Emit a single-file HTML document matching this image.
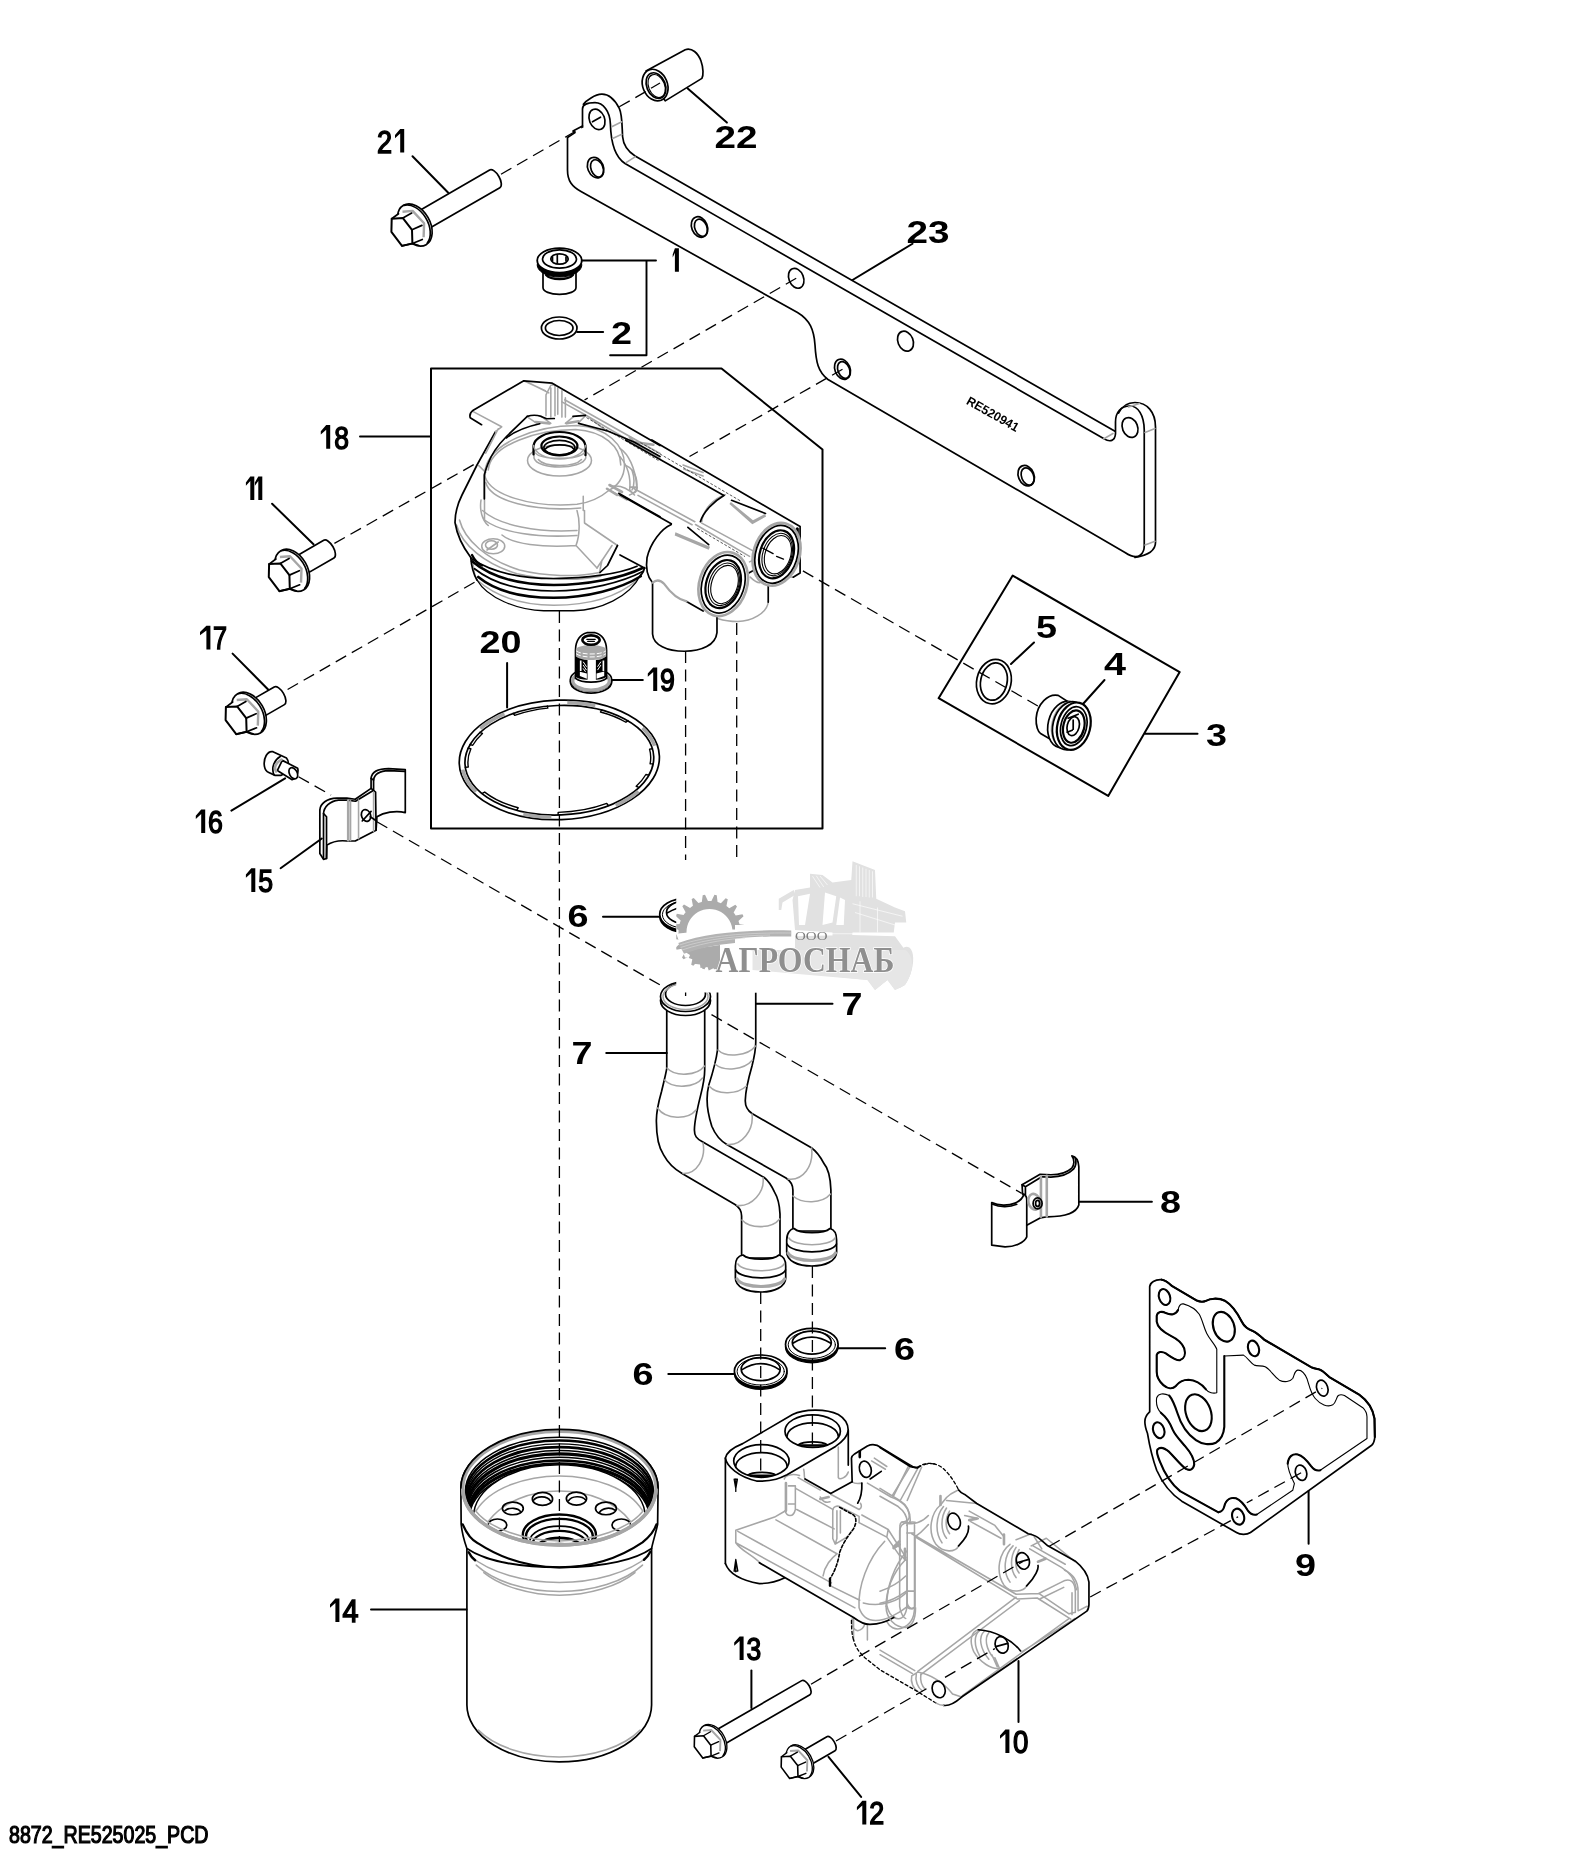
<!DOCTYPE html>
<html><head><meta charset="utf-8"><title>8872_RE525025_PCD</title>
<style>
html,body{margin:0;padding:0;background:#fff;}
body{width:1588px;height:1852px;overflow:hidden;font-family:"Liberation Sans",sans-serif;}
svg{display:block;position:absolute;left:0;top:0;filter:grayscale(1);}
.k{stroke:#000;fill:none;stroke-width:1.7;stroke-linecap:round;stroke-linejoin:round;}
.k2{stroke:#000;fill:none;stroke-width:2.2;stroke-linecap:round;stroke-linejoin:round;}
.kt{stroke:#000;fill:none;stroke-width:1.1;stroke-linecap:round;stroke-linejoin:round;}
.g{stroke:#a6a6a6;fill:none;stroke-width:1.55;stroke-linecap:round;stroke-linejoin:round;}
.g2{stroke:#a6a6a6;fill:none;stroke-width:2.6;stroke-linecap:round;stroke-linejoin:round;}
.d{stroke:#000;fill:none;stroke-width:1.3;stroke-dasharray:12 6.5;}
.w{fill:#fff;}
.kw{stroke:#000;fill:#fff;stroke-width:1.7;stroke-linecap:round;stroke-linejoin:round;}
.gw{stroke:#a6a6a6;fill:#fff;stroke-width:1.3;stroke-linejoin:round;}
text{font-family:"Liberation Sans",sans-serif;fill:#000;}
.n{font-size:31.5px;stroke:#000;stroke-width:1.45;}
.b{font-size:32px;font-weight:bold;}
g.ns *{vector-effect:non-scaling-stroke;}
</style></head><body>
<svg width="1588" height="1852" viewBox="0 0 1588 1852">
<rect width="1588" height="1852" fill="#fff"/>
<!-- plate 23 -->
<g id="plate23">
<!-- outer/back silhouette -->
<path class="k" d="M583.4,104.3 C586,100.5 595,94.5 601.7,94.2 C610,94 616,102 619.3,108.4 C622.5,115 622,128 622.6,136.8 C623.2,144 628,151.5 635.1,156 L1115,431.2"/>
<path class="k" d="M1118.5,413 C1122,406 1128,402.5 1135,402.5 C1147,402.5 1155.5,412 1155.5,427 L1155.5,542.5 C1155.5,549 1150,555 1135,557.5"/>
<!-- front face -->
<path class="k" d="M567.5,137.5 L567.5,170 C567.5,181 572,186.5 581,191.5 L797.5,312.5 C810,320 814,330 815,345 C816,362 818,372 828,379.5 L1125,552.5 C1131,556.5 1137,558 1140.5,555 C1144,552 1144.25,549 1144.25,546 L1144.25,430 C1144,415 1138,406 1130,406 C1121,406 1115.5,412 1115.5,422 L1115.5,433.75 C1115,441 1110,442.5 1104,438.75 L625,163.5 C615,157 610.9,143 610.4,124 C610,111 603,102.6 595,102.6 C587,102.6 582.5,104.5 582.5,109 L582.5,126"/>
<path class="k" d="M567.5,137.5 L575,132.6 L573,131 L582.5,126"/>
<!-- gray tangent marks -->
<path class="g" d="M611.7,126.8 L621.8,121.8 M612.6,138.5 L621.8,134.3 M626,162.7 L635.1,156.8"/>
<path class="g" d="M1128.5,407 L1139.5,403.5 M1145,432.5 L1155,428.5 M1145,545 L1155,541.2 M1103.5,439 L1113,433.5"/>
<!-- holes -->
<g class="k">
<ellipse cx="597" cy="119.4" rx="7.6" ry="10.6" transform="rotate(-22 597 119.4)"/>
<path d="M592.5,121.8 L600.5,117.2"/>
<ellipse cx="595.6" cy="167.6" rx="7.8" ry="10.6" transform="rotate(-22 595.6 167.6)"/>
<ellipse cx="597" cy="168.4" rx="6" ry="9" transform="rotate(-22 597 168.4)"/>
<ellipse cx="699.5" cy="227" rx="7.8" ry="10.6" transform="rotate(-22 699.5 227)"/>
<ellipse cx="700.9" cy="227.8" rx="6" ry="9" transform="rotate(-22 700.9 227.8)"/>
<ellipse cx="796.2" cy="278.3" rx="7.3" ry="10.3" transform="rotate(-22 796.2 278.3)"/>
<ellipse cx="905.5" cy="341.2" rx="7.6" ry="10.3" transform="rotate(-22 905.5 341.2)"/>
<ellipse cx="842.5" cy="369.2" rx="7.6" ry="10.4" transform="rotate(-22 842.5 369.2)"/>
<ellipse cx="843.8" cy="370" rx="5.8" ry="8.8" transform="rotate(-22 843.8 370)"/>
<ellipse cx="1026.2" cy="475.7" rx="7.8" ry="10.6" transform="rotate(-22 1026.2 475.7)"/>
<ellipse cx="1027.6" cy="476.5" rx="6" ry="9" transform="rotate(-22 1027.6 476.5)"/>
<ellipse cx="1130" cy="427.5" rx="7.6" ry="10.2" transform="rotate(-22 1130 427.5)"/>
</g>
<text x="0" y="0" font-size="12.5px" font-weight="bold" transform="translate(965.5,403.5) rotate(29.5)" textLength="58" lengthAdjust="spacingAndGlyphs">RE520941</text>
</g>
<defs>
<!-- bolt head, flange centre at 0,0 ; axis at -30deg -->
<g id="bhead">
 <ellipse class="kw" cx="0" cy="0" rx="15.2" ry="22.7" transform="rotate(-30)"/>
 <path class="k" d="M-10.8,-19.6 A15.2,22.7 -30 0 1 12.5,18.1"/>
 <path d="M-23.1,-6.2 L-16.3,-11.3 L-12.3,-13.3 L-2.2,-14.1 L9.3,-1.8 L8.8,12.3 L7.5,14.5 L-2.4,18.5 L-12.8,20.9 L-23.4,6.8 Z" fill="#fff" stroke="none"/>
 <path class="g2" d="M-12.3,-13.3 L-2.2,-14.1 L9.3,-1.8 L8.8,12.3" style="stroke-width:2.4;stroke-linecap:butt"/>
 <path class="k" d="M-23.1,-6.2 L-11.9,-6.9 L-2.8,4.8 L-2.4,18.5 L-12.8,20.9 L-23.4,6.8 Z" style="stroke-width:2"/>
 <path class="k" d="M-23.1,-6.2 L-16.3,-11.3 M-11.9,-6.9 L-3.1,-11.9 M-2.8,4.8 L7.1,0.4 M-2.4,18.5 L7.5,14.5 M-12.8,20.9 L-2.4,18.5 L4,20.5"/>
</g>
</defs>
<!-- bolt 21 -->
<g id="bolt21" transform="translate(414.8,225)">
<path class="kw" transform="rotate(-30)" d="M3,-10.2 H92.3 a4.8,10.2 0 0 1 0,20.4 H3 Z"/>
<use href="#bhead"/>
</g>
<!-- bushing 22 -->
<g id="bush22">
<path class="kw" d="M646,70.9 L685.2,49.7 C692,47.5 698,53 701,61 C703.5,68 703.5,75.5 701.9,78.4 L665.2,100.9 Z"/>
<ellipse class="kw" cx="655.1" cy="85.1" rx="12.3" ry="16.3" transform="rotate(-22 655.1 85.1)"/>
<ellipse class="k" cx="656" cy="85.6" rx="9.3" ry="13.3" transform="rotate(-22 656 85.6)"/>
<ellipse class="kt" cx="656.6" cy="86" rx="8" ry="12" transform="rotate(-22 656.6 86)"/>
</g>
<!-- plug 1 and ring 2 -->
<g id="plug1">
<path class="kw" d="M543,270 V287.5 C543,291.5 550,294.3 559.5,294.3 C569,294.3 576,291.5 576,287.5 V270 Z"/>
<path class="g" d="M548,276 C553,279 566,279 571,276"/>
<path class="k2" d="M546,275 C551,280.5 568,280.5 573,275"/>
<ellipse cx="559.5" cy="265" rx="22.3" ry="12" fill="#000" stroke="#000" stroke-width="1"/>
<ellipse class="kw" cx="559.5" cy="260.4" rx="22.3" ry="12.2" style="stroke-width:1.8"/>
<ellipse class="k" cx="559.5" cy="259" rx="17" ry="9.2"/>
<ellipse class="k" cx="559.5" cy="259" rx="8.7" ry="5.2"/>
<path class="k" d="M557.3,254.5 V263.2 M552.5,257 V261 M566,257 V261"/>
</g>
<g id="ring2" class="k">
<ellipse cx="559.2" cy="328" rx="17.8" ry="11"/>
<ellipse cx="559.2" cy="328" rx="13.8" ry="7.5"/>
</g>
<g id="bolt11" transform="translate(292.2,570.3)">
<path class="kw" transform="rotate(-30)" d="M3,-10.2 H42.3 a4.8,10.2 0 0 1 0,20.4 H3 Z"/>
<use href="#bhead"/>
</g>
<g id="bolt17" transform="translate(249,713.3)">
<path class="kw" transform="rotate(-30)" d="M3,-10.2 H35 a4.8,10.2 0 0 1 0,20.4 H3 Z"/>
<use href="#bhead"/>
</g>
<g id="bolt13" transform="translate(713,1741.3) scale(0.8)" style="stroke-width:2.1">
<path class="kw" transform="rotate(-30)" d="M3,-10.2 H134 a4.8,10.2 0 0 1 0,20.4 H3 Z" style="stroke-width:2.1"/>
<use href="#bhead"/>
</g>
<g id="bolt12" transform="translate(799.9,1761.7) scale(0.8)">
<path class="kw" transform="rotate(-30)" d="M3,-10.2 H44.8 a4.8,10.2 0 0 1 0,20.4 H3 Z" style="stroke-width:2.1"/>
<use href="#bhead"/>
</g>
<!-- clamp 15 + screw 16 : coords in 5.992x zoom space, offset 190,730 -->
<g class="ns" transform="translate(190,730) scale(0.16689)">
<g id="screw16">
 <path class="kw" d="M497,130 C465,122 438,170 446,218 C450,240 460,250 472,255 L510,272 L545,272 C580,262 605,200 578,168 Z"/>
 <path class="k" d="M541,159 C505,180 485,225 503,268"/>
 <path class="kw" d="M553,182 L645,229 C652,250 640,290 612,298 L523,243 Z"/>
 <ellipse class="kw" cx="619" cy="259" rx="23" ry="36" transform="rotate(-28 619 259)"/>
 <path class="g2" d="M548,177 C515,195 500,225 516,248"/>
</g>
<g id="clamp15">
 <path class="kw" d="M778,740 L778,480 C780,440 820,410 880,408 L940,408 L990,415 L1085,350 L1085,290 C1090,250 1130,232 1190,232 L1290,238 L1290,495 C1230,480 1160,495 1120,520 L1115,600 L990,665 L940,665 C890,660 850,670 820,690 L818,770 L800,775 Z"/>
 <path class="k" d="M800,770 L800,505 C800,460 840,425 890,420 L940,420 L992,427 L1098,362"/>
 <path class="k" d="M818,770 L818,520 L800,500"/>
 <path class="k" d="M1100,362 L1100,300 C1105,262 1140,246 1190,244 L1288,248"/>
 <path class="k" d="M1085,350 L1112,372 L1115,600 M1100,300 L1085,290"/>
 <path class="g2" d="M948,422 V660"/>
 <path class="g" d="M962,424 V662 M1010,420 V652 M1100,372 V606"/>
 <ellipse class="k" cx="1055" cy="512" rx="27" ry="36" transform="rotate(-20 1055 512)"/>
 <path class="k" d="M1032,545 L1085,488 M1080,520 L1118,545"/>
</g>
</g>
<!-- ring 5 and plug 4 : coords in 4.994x zoom space, offset 920,560 -->
<g class="ns" transform="translate(920,560) scale(0.20024)">
 <ellipse class="k" cx="369" cy="607" rx="86" ry="112" transform="rotate(12 369 607)"/>
 <ellipse class="k" cx="369" cy="607" rx="66" ry="94" transform="rotate(12 369 607)"/>
 <g id="plug4">
  <path class="kw" d="M745,712 L690,676 C640,665 585,720 580,790 C578,830 590,860 602,866 L660,900 Z"/>
  <ellipse class="kw" cx="722" cy="822" rx="82" ry="118" transform="rotate(14 722 822)"/>
  <ellipse class="g2" cx="738" cy="824" rx="76" ry="114" transform="rotate(14 738 824)"/>
  <ellipse class="kw" cx="748" cy="828" rx="84" ry="122" transform="rotate(14 748 828)"/>
  <ellipse class="kw" cx="768" cy="830" rx="82" ry="120" transform="rotate(14 768 830)" style="stroke-width:2.2"/>
  <ellipse class="k" cx="768" cy="830" rx="64" ry="99" transform="rotate(14 768 830)"/>
  <ellipse class="k" cx="768" cy="832" rx="52" ry="82" transform="rotate(14 768 832)" style="stroke-width:2.2"/>
  <ellipse class="k" cx="765" cy="830" rx="30" ry="48" transform="rotate(14 765 830)"/>
  <path class="k" d="M740,790 L790,770 M735,860 L760,850 M765,800 L765,845"/>
 </g>
</g>
<!-- ring 20 + strainer 19 : 5.992x zoom coords, offset 440,600 -->
<g class="ns" transform="translate(440,600) scale(0.16689)">
 <g id="ring20" transform="rotate(-2.2 715 958)">
  <ellipse class="k" cx="715" cy="958" rx="600" ry="358"/>
  <ellipse class="k" cx="715" cy="960" rx="566" ry="328"/>
  <path class="g2" style="stroke-width:3.6;stroke-linecap:butt" d="M776.0,615.9 A584,344 0 0 1 943.2,641.3 M248.6,751.0 A584,344 0 0 1 396.9,669.5 M209.2,1130.0 A584,344 0 0 1 134.2,994.0 M654.0,1300.1 A584,344 0 0 1 486.8,1274.7 M1181.4,1165.0 A584,344 0 0 1 1041.6,1243.2 M1220.8,786.0 A584,344 0 0 1 1289.2,895.3"/>
  <path class="k" style="stroke-width:1.4" d="M449.3,668.4 L457.7,680.8 A548,314 0 0 1 657.7,645.7 L655.8,631.8 M980.7,668.4 L972.3,680.8 A548,314 0 0 1 1122.2,747.9 L1135.6,738.5 M1275.5,912.4 L1257.7,914.3 A548,314 0 0 1 1257.7,1001.7 L1275.5,1003.6 M1246.9,1070.2 L1230.0,1065.4 A548,314 0 0 1 1169.3,1133.6 L1184.2,1141.4 M998.0,1242.1 L989.0,1229.9 A548,314 0 0 1 695.9,1271.8 L695.2,1285.8 M449.3,1247.6 L457.7,1235.2 A548,314 0 0 1 260.7,1133.6 L245.8,1141.4 M150.4,980.9 L168.3,979.9 A548,314 0 0 1 188.2,871.4 L170.9,867.6 M183.1,845.8 L200.0,850.6 A548,314 0 0 1 260.7,782.4 L245.8,774.6"/>
 </g>
 <g id="str19">
  <ellipse class="kw" cx="905" cy="490" rx="124" ry="68"/>
  <ellipse class="kw" cx="905" cy="478" rx="124" ry="68"/>
  <ellipse class="g2" cx="905" cy="484" rx="110" ry="56" style="stroke-width:3.4"/>
  <path class="kw" d="M812,300 C812,240 845,203 880,196 L930,196 C965,203 998,240 998,300 V470 C960,500 850,500 812,470 Z"/>
  <path d="M814,292 C850,262 960,262 996,292 V338 C960,366 850,366 814,338 Z" fill="#a8a8a8"/>
  <path d="M816,305 C850,330 960,330 994,305 M816,322 C850,348 960,348 994,322" stroke="#fff" stroke-width="1" fill="none" stroke-dasharray="5 2" vector-effect="non-scaling-stroke"/>
  <path d="M814,338 C835,352 860,358 884,360 V478 C850,478 830,474 814,462 Z M934,360 C960,358 980,350 996,338 V462 C980,474 960,478 934,478 Z" fill="#000"/>
  <path d="M838,362 H848 V425 H838 Z M838,455 L880,472 V440 L838,430 Z M974,362 H984 V425 H974 Z M938,440 L984,428 V455 L938,472 Z" fill="#fff"/>
  <path d="M858,370 L878,400 M858,390 L878,420 M858,410 L872,430 M944,400 L964,370 M944,420 L964,390" stroke="#fff" stroke-width="1" fill="none" vector-effect="non-scaling-stroke"/>
  <ellipse class="kw" cx="905" cy="240" rx="52" ry="28" style="stroke-width:2.6"/>
  <path class="k" d="M880,236 H930 M885,248 H925" style="stroke-width:1.2"/>
 </g>
</g>
<defs>
<g id="oring6">
 <ellipse cx="0" cy="1.3" rx="26.3" ry="16" fill="#000" stroke="#000" stroke-width="1.4"/>
 <ellipse class="kw" cx="0" cy="-1" rx="26.3" ry="16"/>
 <ellipse class="k" cx="0" cy="-0.6" rx="23.6" ry="13.6" style="stroke-width:1"/>
 <ellipse class="k" cx="0" cy="-2.85" rx="19.5" ry="11.5"/>
 <path class="k" d="M-18.6,-2.4 Q0,-14.2 18.6,-2.4"/>
</g>
</defs>
<use href="#oring6" transform="translate(686,915.3)"/>
<use href="#oring6" transform="translate(811.8,1345.4)"/>
<use href="#oring6" transform="translate(760.7,1372)"/>
<!-- tubes 7 -->
<g id="tubes7">
<!-- back (right) tube -->
<path class="kw" d="M717.5,985 L717.5,1050 C716,1062 712,1075 708.8,1085.1 C706,1096 706.5,1110 711.8,1126.2 C715,1134 720,1140.5 727.2,1144.7 L786,1178 C790.5,1181 792.9,1184 792.9,1190 V1231 H830.9 V1190 C830.5,1178 828,1168 823.7,1163.1 C820,1156 816,1151 811.4,1147.7 L752,1113.5 C747,1110 745,1106 745.3,1100 C745.5,1092 748,1080 752,1066 C754,1058 755.75,1050 755.75,1042.5 V985 Z"/>
<path class="g" d="M718,1050 C726,1058 748,1056 755.5,1046 M715,1064 C724,1072 744,1070 752.5,1060 M709,1086 C718,1096 738,1094 746.5,1086 M727,1144.5 C742,1146 754,1130 752,1114 M788,1179 C803,1181 814,1166 811.5,1148 M793,1196 C802,1204 822,1204 830.5,1194"/>
<!-- flare bottom back tube -->
<path class="kw" d="M786.7,1240 C786.7,1232 791,1229 794,1228.5 C800,1234 824,1234 830,1228.5 C834,1229.5 836.6,1233 836.6,1240 V1252 C836.6,1261 825,1266 811.8,1266 C798,1266 786.7,1261 786.7,1252 Z"/>
<path class="g" d="M789,1238 C794,1247 830,1247 835,1238"/>
<path class="k" d="M787,1244 C792,1254.5 832,1254.5 836.5,1244"/>
<path class="g2" d="M788,1253 C794,1263 830,1263 835.5,1253" style="stroke-width:3.2"/>
<!-- front (left) tube -->
<path class="kw" d="M666.75,1000 V1068.7 C665,1078 663,1085 661.6,1091.3 C658,1104 656,1112 656.4,1122 C656.4,1138 659,1148 663.6,1154.9 C668,1163 674,1169 682.1,1173.4 L735,1204.5 C739,1207 741.6,1210 741.6,1216 V1258 H780 V1214 C779.6,1205 777.5,1197 774.4,1191.9 C771.5,1185.5 768,1180.5 764.2,1177.5 L702,1141.5 C696.5,1138.5 694.4,1136 694.4,1130 C694.4,1122 697,1110 700.6,1095.4 C703,1086 704.7,1078 704.7,1070 V1000 Z"/>
<path class="g" d="M667,1068 C675,1077 697,1076 704.5,1066 M664.5,1080 C673,1089 695,1088 702.5,1078 M657.5,1108 C666,1120 688,1120 696,1110 M683,1173.5 C697,1174 706,1158 703,1143 M737,1205.5 C752,1207 765,1192 763,1177.5 M742,1220 C750,1229 772,1229 779.6,1219"/>
<!-- flare bottom front tube -->
<path class="kw" d="M735.4,1266 C735.4,1258 740,1255.5 743,1255 C749,1260.5 773,1260.5 779,1255 C783,1256 785.7,1259.5 785.7,1266 V1278 C785.7,1287 774,1292 760.7,1292 C747,1292 735.4,1287 735.4,1278 Z"/>
<path class="g" d="M738,1264 C743,1273 779,1273 784,1264"/>
<path class="k" d="M735.7,1270 C741,1280.5 781,1280.5 785.5,1270"/>
<path class="g2" d="M737,1279 C743,1289 779,1289 784.5,1279" style="stroke-width:3.2"/>
<!-- top flare of front tube -->
<ellipse class="kw" cx="685.5" cy="1000.5" rx="25" ry="15"/>
<ellipse class="kw" cx="685.5" cy="996.5" rx="25" ry="15"/>
<ellipse class="k" cx="685.5" cy="994" rx="20" ry="11.5"/>
<ellipse class="g" cx="685.5" cy="996.5" rx="22.5" ry="13"/>
</g>
<!-- clamp 8 : 5.992x zoom coords, offset 960,1130 -->
<g class="ns" transform="translate(960,1130) scale(0.16689)">
 <path class="kw" d="M190,435 C230,455 290,455 330,438 C360,425 378,405 382,385 L375,385 L372,328 L480,265 L545,268 C590,268 640,255 670,228 C685,210 688,180 670,155 C695,160 710,185 712,220 L712,450 C700,490 640,520 525,520 L480,527 L400,570 L400,640 C385,675 330,700 270,700 L190,690 Z"/>
 <path class="k" d="M382,385 C395,390 400,400 400,420 L400,570 M372,328 L392,340 L392,395 M392,340 L490,280 L545,282 C600,282 650,265 680,235 C695,215 698,190 690,168"/>
 <path class="k" d="M196,445 C240,465 300,462 340,445"/>
 <path class="g2" d="M485,280 V520 M520,275 V518"/>
 <ellipse class="g2" cx="445" cy="430" rx="35" ry="48" transform="rotate(-15 445 430)"/>
 <ellipse class="k" cx="465" cy="440" rx="27" ry="33"/>
 <ellipse class="k" cx="465" cy="440" rx="12" ry="18"/>
</g>
<!-- gasket 9 : 5.992x zoom coords, offset 1130,1270 -->
<g class="ns" transform="translate(1130,1270) scale(0.16689)">
 <path class="kw" d="M118,100 C120,75 150,55 190,58 C215,62 235,80 250,95 L400,183 C420,192 440,192 455,185 C480,170 530,165 570,185 C620,215 650,270 670,310 C685,340 705,355 735,365 C765,380 785,400 805,418 L1085,582 C1100,590 1120,592 1135,596 C1160,605 1180,630 1195,642 L1375,748 C1420,780 1455,830 1465,890 L1467,1000 C1465,1025 1460,1040 1448,1050 L722,1573 C700,1588 660,1588 638,1573 L310,1385 C250,1345 195,1280 160,1200 C135,1130 115,1040 105,980 C90,940 85,900 95,880 C100,865 110,858 118,850 Z"/>
 <g class="k" style="stroke-width:2.1">
 <ellipse cx="207" cy="162" rx="33" ry="49" transform="rotate(-18 207 162)"/>
 <path class="kt" d="M160,275 C165,250 190,245 215,258 C245,272 275,268 288,240 C292,215 300,200 320,203 C350,212 395,235 415,265 C435,300 440,340 460,380 C480,420 510,445 520,475 L520,735 C500,742 470,735 455,715 C430,685 390,660 350,658 C315,658 290,675 275,695 C255,715 225,712 200,690 C175,668 160,645 160,610 L160,510 C165,490 190,485 215,500 C245,520 275,545 300,540 C325,532 335,505 325,470 C312,435 280,412 245,395 C205,375 165,350 160,310 Z"/>
 <path d="M160,275 C165,250 190,245 215,258 C245,272 275,268 288,240 M160,510 C165,490 190,485 215,500 C245,520 275,545 300,540 C325,532 335,505 325,470 C312,435 280,412 245,395 C205,375 165,350 160,310 L160,275 M160,510 L160,610 C160,645 175,668 200,690 C225,712 255,715 275,695 C290,675 315,658 350,658 C390,660 430,685 455,715"/>
 <ellipse cx="562" cy="340" rx="62" ry="92" transform="rotate(-20 562 340)"/>
 <ellipse cx="740" cy="470" rx="32" ry="48" transform="rotate(-18 740 470)"/>
 <ellipse cx="410" cy="855" rx="74" ry="114" transform="rotate(-20 410 855)"/>
 <ellipse cx="172" cy="960" rx="33" ry="49" transform="rotate(-18 172 960)"/>
 <ellipse cx="1152" cy="708" rx="33" ry="49" transform="rotate(-18 1152 708)" style="stroke-width:1.7"/>
 <ellipse cx="1025" cy="1215" rx="33" ry="47" transform="rotate(-18 1025 1215)" style="stroke-width:1.7"/>
 <ellipse cx="648" cy="1478" rx="35" ry="49" transform="rotate(-18 648 1478)"/>
 </g>
 <!-- large chamber -->
 <path class="k" style="stroke-width:2.1" d="M565,515 L565,940 C562,980 545,1015 515,1035 C480,1050 430,1045 395,1020 C345,985 305,925 285,860 C270,815 255,775 235,752"/>
 <path class="kt" d="M565,515 L680,510 C705,525 720,555 745,570 C765,578 790,570 810,580 C840,595 860,635 895,660 C925,675 960,670 975,650 C985,630 985,605 1005,600 C1030,598 1050,625 1062,655 C1075,695 1080,735 1110,770 C1140,805 1185,825 1215,808 C1235,795 1235,765 1248,752 C1260,745 1275,748 1285,752 L1395,825 C1410,840 1420,860 1420,880 L1420,1010 L1140,1200 C1120,1205 1100,1195 1085,1175 C1060,1140 1035,1112 1005,1105 C975,1100 950,1115 945,1160 C945,1200 965,1240 985,1280 L975,1320 L760,1465 C740,1470 720,1460 705,1440 C690,1415 665,1380 635,1368 C605,1360 580,1375 570,1400 C562,1420 565,1445 530,1452 L300,1325 C245,1280 205,1215 180,1150 C165,1115 155,1090 165,1075 C180,1060 205,1065 235,1090 C270,1125 300,1165 335,1192 C360,1205 380,1195 385,1165 C385,1130 365,1095 330,1055 C295,1015 270,990 255,955 C240,915 215,880 185,855 C165,835 155,800 160,765 C170,740 200,735 235,752"/>
 <path class="k" style="stroke-width:2.1" d="M945,1160 C950,1115 975,1100 1005,1105 C1035,1112 1060,1140 1085,1175 C1100,1195 1120,1205 1140,1200 M530,1452 C565,1445 562,1420 570,1400 C580,1375 605,1360 635,1368 C665,1380 690,1415 705,1440 C720,1460 740,1470 760,1465 M300,1325 C245,1280 205,1215 180,1150 C165,1115 155,1090 165,1075 C180,1060 205,1065 235,1090 C270,1125 300,1165 335,1192 C360,1205 380,1195 385,1165 C385,1130 365,1095 330,1055 C295,1015 270,990 255,955 C240,915 215,880 185,855 M300,1325 L530,1452"/>
 <!-- thick outer top edge -->
 <path class="k" style="stroke-width:2.1" d="M190,58 C215,62 235,80 250,95 L400,183 C420,192 440,192 455,185 C480,170 530,165 570,185 C620,215 650,270 670,310 C685,340 705,355 735,365 C765,380 785,400 805,418 L1085,582 C1100,590 1120,592 1135,596 C1160,605 1180,630 1195,642 L1375,748 C1420,780 1455,830 1465,890 L1467,1000"/>
</g>
<!-- filter 14 : 6.617x zoom coords, offset 440,1420 -->
<g class="ns" transform="translate(440,1420) scale(0.15113)">
 <!-- body -->
 <path class="kw" d="M178,850 V1886 A611,376 0 0 0 1400,1886 V850 Z"/>
 <path class="g" d="M254,2052 A611,343 0 0 0 1324,2052"/>
 <!-- rim -->
 <path class="kw" d="M138,450 C138,240 430,68 790,68 C1150,68 1443,240 1443,450 L1440,690 C1430,740 1410,800 1400,850 C1300,920 1100,975 790,975 C480,975 280,920 178,850 C160,800 145,740 140,690 Z"/>
 <path class="g" d="M200,900 C330,1010 560,1075 790,1075 C1020,1075 1250,1010 1380,900 M240,960 C360,1070 570,1135 790,1135 C1010,1135 1220,1070 1340,960" />
 <path class="g" d="M290,1010 C400,1100 600,1160 790,1160 C980,1160 1180,1100 1290,1010"/>
 <path class="k2" d="M150,690 C180,760 220,800 250,815 C380,900 560,975 790,975 C1020,975 1200,905 1340,810 C1390,770 1420,730 1432,690"/>
 <path class="k" d="M190,875 C200,895 215,915 232,928 M1350,925 C1368,910 1382,890 1392,872" style="stroke-width:2.4"/>
 <!-- top gray rim ellipse -->
 <ellipse class="g2" cx="790" cy="450" rx="640" ry="376" style="stroke-width:3.6"/>
 <path class="k" d="M138,450 C138,240 430,62 790,62 C1150,62 1443,240 1443,450"/>
 <!-- interior floor -->
 <clipPath id="f14clip"><ellipse cx="790" cy="450" rx="628" ry="366"/></clipPath>
 <g clip-path="url(#f14clip)">
  <g class="k">
   <ellipse cx="790" cy="472" rx="622" ry="358" style="stroke-width:1.6"/>
   <ellipse cx="790" cy="491" rx="619" ry="355" style="stroke-width:2.6"/>
   <ellipse cx="790" cy="510" rx="616" ry="352" style="stroke-width:1.4"/>
   <ellipse cx="790" cy="529" rx="613" ry="349" style="stroke-width:2.8"/>
   <ellipse cx="790" cy="548" rx="610" ry="346" style="stroke-width:1.6"/>
   <ellipse cx="790" cy="567" rx="607" ry="343" style="stroke-width:3.2"/>
   <ellipse cx="790" cy="586" rx="604" ry="340" style="stroke-width:1.6"/>
   <ellipse cx="790" cy="605" rx="601" ry="337" style="stroke-width:2.4"/>
   <ellipse cx="790" cy="624" rx="598" ry="334" style="stroke-width:3.4"/>
   <ellipse cx="790" cy="643" rx="595" ry="331" style="stroke-width:1.8"/>
  </g>
  <ellipse cx="790" cy="642" rx="568" ry="346" fill="#fff" stroke="#000" stroke-width="1.6" vector-effect="non-scaling-stroke"/>
  <path class="g" d="M240,600 C330,450 570,370 790,370 C1010,370 1250,450 1340,600"/>
  <path class="g" d="M320,670 C420,540 600,470 790,470 C980,470 1160,540 1260,670"/>
  <g class="k">
   <ellipse cx="678" cy="522" rx="67" ry="43"/><path d="M620,530 C640,500 710,500 730,535"/>
   <ellipse cx="903" cy="520" rx="67" ry="43"/><path d="M850,535 C870,500 940,500 962,528"/>
   <ellipse cx="482" cy="585" rx="69" ry="42"/><path d="M430,600 C460,575 520,580 535,610"/>
   <ellipse cx="1098" cy="585" rx="69" ry="42"/><path d="M1055,612 C1075,580 1130,575 1160,598"/>
   <ellipse cx="380" cy="695" rx="62" ry="40"/>
   <ellipse cx="1200" cy="695" rx="62" ry="40"/>
  </g>
  <!-- centre threaded hole -->
  <ellipse class="kw" cx="790" cy="760" rx="242" ry="135" style="stroke-width:2.4"/>
  <ellipse class="k" cx="790" cy="772" rx="222" ry="118" style="stroke-width:2.4"/>
  <ellipse class="k" cx="790" cy="800" rx="195" ry="98"/>
  <ellipse class="k" cx="790" cy="820" rx="178" ry="86" style="stroke-width:2.2"/>
  <ellipse class="k" cx="790" cy="850" rx="150" ry="70" style="stroke-width:2.6"/>
  <ellipse class="k" cx="790" cy="870" rx="110" ry="50" style="stroke-width:2.6"/>
 </g>
 <!-- front rim gray (lower half of gray ellipse drawn over floor) -->
 <path class="g2" d="M152,470 C170,680 460,826 790,826 C1120,826 1410,680 1428,470" style="stroke-width:3.6"/>
 <path class="g" d="M235,600 C330,720 560,800 790,800 C1020,800 1250,720 1345,600"/>
</g>
<!-- housing 10 left : 7.218x zoom coords, offset 715,1400 -->
<g class="ns" transform="translate(715,1400) scale(0.13854)">
 <clipPath id="h10a"><ellipse cx="335" cy="440" rx="200" ry="118"/></clipPath>
 <clipPath id="h10b"><ellipse cx="705" cy="225" rx="200" ry="118"/></clipPath>
 <!-- gray detail -->
 <g class="g">
  <path d="M150,940 L430,845 L500,805 M150,940 V1030 C190,1090 260,1110 330,1180 M165,948 L840,1320 M150,1030 L1010,1500 M440,865 L880,1110 M590,790 L860,930 M585,640 L850,790 M600,560 L760,650"/>
  <path d="M500,570 C510,540 560,530 610,545 M505,800 C520,845 565,850 580,790 M580,620 V785 M530,620 H580 M530,750 H580"/>
  <path d="M850,800 C850,770 880,758 905,772 L1040,840 V885 M850,800 V1000 L868,1040 M880,800 V1000 L868,1040 L960,985 M905,800 V960"/>
  <path d="M760,700 C770,730 800,745 830,735 M835,680 L1040,790 C1060,780 1060,760 1050,745 M990,590 C1000,600 1030,605 1060,600"/>
  <path d="M1040,1500 C1030,1350 1100,1150 1225,1020 M1240,1480 C1240,1350 1290,1200 1385,1090 M830,1340 L1045,1445 M780,1270 C790,1200 840,1140 880,1110 M1040,1500 C1060,1560 1100,1592 1160,1592 C1230,1592 1330,1540 1390,1490 M1070,1465 C1200,1500 1330,1450 1390,1380 M1240,1480 C1250,1530 1270,1560 1300,1570"/>
  <path d="M1335,905 V1120 L1385,1160 V1500 M1385,905 C1385,885 1400,878 1445,882 M1440,900 V1500 M1385,960 H1440 M1385,1380 H1440 M1385,1480 C1390,1510 1420,1515 1440,1495 M1335,905 C1335,885 1350,875 1385,880"/>
  <path d="M1100,600 L1270,700 C1340,725 1395,770 1402,830 C1406,862 1390,880 1345,882 M1130,440 L1230,500 M1150,420 L1240,480 M1290,690 L1400,470 M1340,720 L1460,500"/>
  <path d="M1060,830 L1250,935 L1380,1140 M1040,885 L1240,990 L1330,1120 M1250,935 L1240,990"/>
  <path d="M990,1580 C980,1620 1000,1660 1030,1665 C1060,1660 1075,1640 1080,1620 M1000,1570 V1732 M1100,1625 V1732 M1240,1600 C1260,1640 1300,1660 1340,1650 C1400,1630 1440,1580 1440,1500 M1290,1570 C1330,1590 1370,1580 1385,1500"/>
  <path d="M640,500 C650,540 640,560 650,570 M890,340 V560 C900,580 950,560 962,520"/>
 </g>
 <path class="g2" d="M512,600 V800 M1290,1060 L1330,1020 M760,715 L820,700"/>
 <!-- dark -->
 <g class="k">
  <path d="M75,1180 V420 C85,370 150,335 200,315 L560,105 C640,65 800,60 890,105 C940,135 962,175 962,220 V470"/>
  <path d="M75,420 C85,480 170,555 300,585 C420,590 480,560 520,540 L870,335 C930,295 958,250 962,220"/>
  <path d="M75,1180 C100,1250 180,1300 320,1325 C400,1325 460,1305 500,1285"/>
  <ellipse cx="335" cy="440" rx="200" ry="118"/>
  <ellipse cx="705" cy="225" rx="200" ry="118"/>
  <g clip-path="url(#h10a)"><ellipse cx="335" cy="482" rx="186" ry="102"/><path d="M235,545 C270,515 400,515 445,545" /><path d="M235,547 H445" style="stroke-width:2.6"/></g>
  <g clip-path="url(#h10b)"><ellipse cx="705" cy="267" rx="186" ry="102"/><path d="M600,325 C640,295 770,295 812,325"/><path d="M600,328 H812" style="stroke-width:2.6"/></g>
  <path d="M150,570 V660 M150,1150 V1240 M138,572 H162 L150,640 Z M150,1150 L138,1235 H165 Z" style="stroke-width:1.3"/>
  <path d="M650,570 L835,675 L990,590"/>
  <path d="M990,590 L985,420 C988,400 1000,395 1010,388 L1100,332 C1130,318 1170,322 1200,345 L1400,465 C1420,480 1440,490 1462,490"/>
  <path d="M1045,370 V412" style="stroke-width:2.6"/>
  <ellipse cx="1085" cy="500" rx="42" ry="60" transform="rotate(-15 1085 500)"/>
  <path d="M1120,570 L1200,515 M1060,600 C1062,650 1058,700 1030,745"/>
  <path d="M320,1175 L1000,1570 C1040,1600 1080,1622 1120,1620 C1180,1618 1240,1600 1290,1570"/>
  <path d="M830,1290 V1340" style="stroke-width:2.4"/>
 </g>
 <path class="k" style="stroke-dasharray:3 2;stroke-width:1.6" d="M900,775 L1000,830 C1020,850 1025,880 1000,930 C960,980 920,1040 900,1100 C890,1160 870,1230 830,1290"/>
 <path class="k" style="stroke-dasharray:4 3;stroke-width:1.3" d="M1462,490 C1500,465 1540,455 1588,462"/>
 <path class="k" style="stroke-dasharray:3 2.5;stroke-width:1.3" d="M985,1590 C985,1660 990,1700 1000,1732"/>
</g>
<!-- housing 10 right : 6.614x zoom coords, offset 880,1440 -->
<g class="ns" transform="translate(880,1440) scale(0.15119)">
 <g class="g">
  <path d="M400,430 C340,480 310,600 370,690 C420,750 500,742 520,700 M420,440 C370,500 360,610 410,680 M440,450 C400,510 400,600 440,650 M460,470 C430,520 430,580 460,620"/>
  <path d="M860,690 C790,740 760,870 820,960 C870,1020 950,1002 970,965 M880,700 C820,760 810,870 860,940 M900,710 C860,770 860,860 900,910 M920,725 C890,780 890,840 920,880"/>
  <path d="M650,1255 C600,1270 590,1330 620,1400 C660,1470 740,1520 790,1510 M690,1265 C650,1300 660,1380 720,1450 M720,1275 C690,1310 700,1380 750,1440 M660,1260 C620,1290 620,1360 660,1430 M760,1440 L790,1510 M740,1420 L775,1500"/>
  <path d="M210,1560 C200,1600 220,1650 260,1670 M240,1550 C230,1590 250,1640 280,1660 M270,1550 C265,1590 280,1630 300,1650 M210,1560 L250,1535 C330,1550 420,1600 480,1680 L540,1700"/>
  <path d="M210,620 L900,1020 M240,645 L910,1052 M900,1020 L1050,1015 L1250,1150 M910,1052 L1040,1045 L1262,1185 M1050,1015 L1200,940 C1260,905 1292,940 1292,1010 V1140 M1060,1050 L1215,975 M1250,1150 L1292,1140 M1270,1010 V1155 M1310,1000 V1130 L1370,1100 M1310,1000 C1310,940 1280,890 1220,860"/>
  <path d="M900,1040 L250,1530 M922,1062 L272,1550 M1250,1182 L545,1690 M1290,1180 L940,1400"/>
  <path d="M990,720 L1200,842 C1250,870 1290,920 1300,990 M1012,700 L1225,822 M1020,640 L1070,720 M900,660 L1000,620 M1000,700 L1100,650 L1290,805"/>
  <path d="M130,600 V1100 M180,560 V1100 M232,640 V1100 M180,1000 H232 M180,1080 C190,1120 225,1125 232,1100 M40,1100 C40,1180 100,1240 170,1240 C220,1230 235,1180 235,1110 M130,1100 C135,1150 160,1180 170,1180"/>
  <path d="M80,370 L200,175 M180,400 L275,180 M0,320 L130,400 C170,425 200,470 200,530 C200,545 190,550 180,552 M0,372 L120,440 C160,470 180,500 180,545 C160,548 135,555 130,600"/>
  <path d="M0,1000 C60,980 120,950 170,900 M0,1080 C60,1070 120,1040 175,1000 M40,1100 C40,1000 80,880 170,790"/>
  <path d="M180,552 C220,560 280,545 320,500 M232,640 C280,610 300,580 320,560 M400,430 L440,380 C470,350 500,340 520,330 M440,400 L640,420 M560,500 L650,520 M590,470 L760,565 L820,640 M600,540 L800,650"/>
  <path d="M0,1390 L230,1525 M0,1420 L215,1545"/>
 </g>
 <path class="g2" d="M400,370 V430 M820,625 V690 M1045,805 L1095,785 M590,530 L640,520 M90,715 L130,690 M165,720 V790"/>
 <g class="k">
  <path d="M0,50 L200,175 C215,182 235,183 250,180"/>
  <path d="M520,330 C535,350 560,360 560,360 L640,420 L980,620 C1010,625 1040,635 1070,665 L1110,700 L1290,800 C1340,840 1375,890 1382,940 V1090 C1380,1110 1375,1125 1368,1132 L540,1700 C500,1735 450,1760 420,1755"/>
  <ellipse cx="490" cy="538" rx="40" ry="56" transform="rotate(-18 490 538)"/>
  <ellipse cx="945" cy="800" rx="42" ry="56" transform="rotate(-18 945 800)"/>
  <ellipse cx="805" cy="1355" rx="42" ry="56" transform="rotate(-18 805 1355)"/>
  <ellipse cx="388" cy="1650" rx="42" ry="56" transform="rotate(-18 388 1650)"/>
  <path d="M905,812 L985,790 M765,1367 L845,1345"/>
  <path d="M520,700 C570,650 590,600 585,570 M970,965 C1030,905 1050,850 1045,830 M650,1255 C760,1262 870,1320 930,1395"/>
 </g>
 <path class="k" style="stroke-dasharray:3 2.5;stroke-width:1.3" d="M250,180 C290,150 350,145 400,175 C450,210 490,270 520,330 M370,1740 L250,1665 L0,1520 L-100,1440 C-130,1410 -160,1380 -174,1323"/>
 <path class="g" d="M420,1755 C400,1755 380,1745 370,1740"/>
</g>
<!-- filter head 18 -->
<!-- general/gray : 4x zoom coords, offset 437,360 -->
<g class="ns" transform="translate(437,360) scale(0.25)">
 <g class="g">
  <path d="M190,455 C200,330 400,262 560,262 C680,270 750,340 750,420 C750,470 720,505 690,520"/>
  <path d="M205,440 C215,335 410,278 555,278 C665,285 735,345 735,420"/>
  <path d="M190,455 C200,540 380,592 560,577 C620,570 660,545 690,520"/>
  <path d="M195,490 C215,565 390,608 575,592"/>
  <ellipse cx="490" cy="402" rx="128" ry="62"/>
  <path d="M388,350 V392 C400,440 580,440 595,392 V350"/>
  <path d="M405,398 C430,430 550,430 578,398"/>
  <path d="M190,455 V640 M176,560 C170,600 180,640 205,662"/>
  <path d="M190,640 C260,692 400,712 560,702 M182,602 C250,662 400,692 560,682"/>
  <path d="M585,545 V602 M560,602 C572,640 572,700 556,742 M590,602 V652 L722,742 M556,742 L640,832 M556,742 C420,752 300,735 260,700"/>
  <path d="M640,832 L700,742 M650,850 L660,800"/>
  <ellipse cx="225" cy="745" rx="46" ry="30"/>
  <ellipse cx="218" cy="740" rx="24" ry="17"/>
  <path d="M200,760 L245,728"/>
  <path d="M90,640 C110,720 200,800 330,840 C430,865 560,870 650,850"/>
  <path d="M78,660 C100,740 190,815 320,855 C430,880 560,885 655,865"/>
  <path d="M144,814 C148,850 152,870 160,880 C240,950 350,981 467,981 C600,981 720,950 801,880"/>
  <path d="M690,520 L760,560 M700,505 C730,500 760,510 790,540 M750,420 C780,430 800,460 800,500 C800,520 790,535 770,540"/>
  <path d="M780,440 C790,470 790,500 780,520"/>
 </g>
 <path class="g2" d="M680,515 L720,540 M690,500 L740,528"/>
 <g class="k">
  <path d="M234,287 L160,420 L100,540 C80,580 72,620 72,650 C80,700 105,750 135,790"/>
  <path d="M137,794 C220,850 340,874 467,874 C600,874 730,855 800,825"/>
  <path d="M140,805 C220,872 340,900 467,900 C600,900 740,872 822,832" style="stroke-width:2.6"/>
  <path d="M150,835 C225,895 340,924 467,924 C600,924 740,890 825,845"/>
  <path d="M165,868 C235,925 345,951 467,951 C600,951 735,915 815,865" style="stroke-width:2.6"/>
  <path d="M160,880 C200,950 320,1001 427,1003 L547,1003 C650,1001 770,950 814,860" style="stroke-width:1.3"/>
  <path d="M135,790 C138,830 148,860 160,880 M830,830 C828,845 822,855 814,862"/>
  <path d="M722,742 L682,822 L652,850"/>
  <path d="M140,780 C150,800 165,815 180,822" style="stroke-width:2.4"/>
 </g>
</g>
<!-- left/top : 7.218x zoom coords, offset 440,370 -->
<g class="ns" transform="translate(440,370) scale(0.13854)">
 <g class="g">
  <path d="M240,300 L445,410 L400,445 M420,425 L330,600 M280,690 L330,740 M605,78 L760,150 M640,92 L785,165"/>
  <path d="M765,180 V330 M800,130 V340 M830,110 V330 M850,130 V320 M880,150 V340 M905,200 V340 M765,180 L800,110 L830,105"/>
  <path d="M880,230 L1060,330 L1588,640 M900,215 L1588,603 M1060,330 L1200,440"/>
  <path d="M640,345 L700,385 M730,335 L800,385 M905,385 L960,340 M1050,330 L1000,380"/>
 </g>
 <path class="g2" d="M690,375 L790,385 M915,385 L1000,370 M1370,485 L1400,520 L1540,540" />
 <path class="k" style="stroke-dasharray:2 2.5;stroke-width:.9;stroke:#444" d="M1060,345 L1588,660"/>
 <g class="k">
  <path d="M605,78 L810,95 L860,125 L1588,545"/>
  <path d="M605,78 L240,290 C220,305 212,325 218,345 L300,395"/>
  <path d="M630,335 L480,480 C420,540 370,610 345,680 C330,720 322,750 320,760 V930"/>
  <path d="M720,388 C620,410 530,450 480,490"/>
  <path d="M630,335 C660,325 700,325 730,335 L770,352 L825,350 M960,335 L1050,328"/>
  <path d="M1000,385 L1210,440 L1400,520 L1588,625"/>
  <path d="M675,610 V545 A188,105 0 0 1 1050,545 V615" style="stroke-width:2.2"/>
  <ellipse cx="862" cy="548" rx="130" ry="68" style="stroke-width:2.2"/>
  <ellipse cx="862" cy="560" rx="112" ry="52"/>
  <path d="M760,570 C790,530 940,530 965,570" />
  <path d="M1290,890 L1588,1060"/>
 </g>
 <path class="g" d="M675,545 A188,105 0 0 0 1050,545 M690,600 C730,650 990,650 1040,600"/>
</g>
<!-- right ports : 7.218x zoom coords, offset 620,440 -->
<g class="ns" transform="translate(620,440) scale(0.13854)">
 <path class="kw" style="stroke:none" d="M370,610 C300,640 220,740 195,850 C185,920 200,990 235,1030 V1400 C240,1480 340,1525 465,1525 C590,1525 690,1480 700,1390 V1290 C760,1310 900,1320 1000,1270 C1060,1230 1070,1190 1070,1050 L1300,960 V625 L750,400 Z"/>
 <g class="g">
  <path d="M545,610 L935,840 M590,600 L960,800 M100,350 L540,590 M130,400 L520,612"/>
  <path d="M0,60 C60,100 110,200 120,330 M0,120 C50,180 80,260 70,360 M70,340 H125 M70,360 C90,390 120,390 125,340"/>
  <path d="M1070,1170 C1060,1250 950,1310 850,1310 C790,1310 740,1300 710,1290 M1250,990 L1190,985 M935,880 L980,860 M940,990 C960,1010 990,1030 1010,1030"/>
  <path d="M590,590 C600,500 680,420 760,395 M985,800 C1000,700 1080,620 1180,600"/>
  <path d="M455,180 L600,235 M460,210 L600,260"/>
 </g>
 <path class="k" style="stroke-dasharray:2 2.5;stroke-width:.9;stroke:#444" d="M150,20 L870,440 M560,640 L900,840"/>
 <g class="k">
  <path d="M230,0 L1300,625 V960 L1250,990"/>
  <path d="M40,0 L750,400"/>
  <path d="M1280,640 V720" style="stroke-width:3"/>
  <path d="M0,395 L370,605 M0,830 L180,925"/>
  <path d="M750,400 C680,440 600,520 580,590 M805,435 L1050,530 M490,630 L640,755"/>
  <path d="M370,610 C300,640 220,740 195,850 C185,920 200,990 235,1030 V1400 C240,1480 340,1525 465,1525 C590,1525 690,1480 700,1390 V1260"/>
  <path d="M1070,1050 V1170 M480,1165 L600,1235 M920,965 L985,930"/>
 </g>
 <path class="g2" d="M235,1030 C260,1008 290,1008 320,1040 C370,1110 420,1150 480,1165" style="stroke-width:2.2"/>
 <path d="M400,665 L650,770 L640,792 L395,690 Z M800,448 L960,580 L1045,535 L1055,552 L955,608 L790,462 Z" fill="#a6a6a6"/>
 <!-- port 2 (back) -->
 <g transform="rotate(18 1130 825)">
  <ellipse class="gw" cx="1130" cy="825" rx="166" ry="232" style="stroke-width:2.6"/>
  <ellipse class="k" cx="1130" cy="825" rx="150" ry="214"/>
  <ellipse class="k" cx="1130" cy="825" rx="120" ry="178" style="stroke-width:2.2"/>
  <ellipse class="kt" cx="1135" cy="825" rx="104" ry="158"/>
  <ellipse class="kt" cx="1140" cy="825" rx="92" ry="142"/>
 </g>
 <path class="k" d="M1030,780 L1105,820 M1130,840 L1180,860" style="stroke-width:1.3"/>
 <!-- port 1 (front) -->
 <g transform="rotate(18 745 1040)">
  <ellipse class="gw" cx="745" cy="1040" rx="172" ry="236" style="stroke-width:2.6"/>
  <ellipse class="k" cx="745" cy="1040" rx="152" ry="214"/>
  <ellipse class="k" cx="745" cy="1040" rx="122" ry="178" style="stroke-width:2.2"/>
  <ellipse class="kt" cx="750" cy="1040" rx="106" ry="158"/>
  <ellipse class="kt" cx="755" cy="1040" rx="94" ry="142"/>
 </g>
</g>
<g id="dashed" class="d">
<path d="M501,174.2 L583.4,126.7"/>
<path d="M619.3,106.8 L646,91.5"/>
<path d="M651,88.2 L660,83" style="stroke-dasharray:none"/>
<path d="M334.4,543.4 L474,464.5"/>
<path d="M287.6,689.5 L478,580.3"/>
<path d="M796.2,278.3 L584.5,400"/>
<path d="M842.5,369.25 L689.5,456.5"/>
<path d="M802.9,570.9 L1040,707.2"/>
<path d="M298.5,776.7 L331,795.1"/>
<path d="M376.9,821.8 L661,985.5"/>
<path d="M711.5,1014.6 L1021.7,1193.4"/>
<path d="M559.4,611 V1542"/>
<path d="M685.6,651 V1001"/>
<path d="M736.7,623 V861"/>
<path d="M760.7,1292 V1476"/>
<path d="M812.4,1266 V1445"/>
<path d="M811,1684.2 L1022.9,1561.5"/>
<path d="M1049.3,1546.2 L1322.3,1388.2"/>
<path d="M836,1741 L927,1688.4"/>
<path d="M945,1677.4 L994.9,1648.6"/>
<path d="M1090.2,1597 L1238.1,1516.7"/>
<path d="M1301.1,1472.8 L1246.8,1502.8"/>
</g>
<!-- watermark logo : white box + 4x zoom coords offset 545,850 -->
<rect x="676.25" y="860" width="250" height="132.5" fill="#fff"/>
<g transform="translate(545,850) scale(0.25)">
 <clipPath id="lgclip"><rect x="525" y="40" width="1000" height="530"/></clipPath>
 <g clip-path="url(#lgclip)">
 <!-- combine harvester, light gray -->
 <g fill="#e1e1e1" stroke="none">
  <path d="M1060,95 L1110,100 L1150,130 L1225,120 L1230,45 L1320,80 L1325,195 L1400,230 L1440,245 L1445,290 L1400,290 L1395,330 L1230,330 L1225,385 L1150,385 L1150,330 L1000,320 L990,200 L1000,160 L1060,150 Z"/>
  <path d="M935,195 L995,160 L1000,180 L950,210 L945,240 L935,240 Z"/>
  <path d="M1000,345 L1230,340 L1400,345 L1440,400 C1475,410 1480,480 1440,540 L1400,560 L1370,520 L1320,560 L1290,520 L1000,490 L700,470 L700,400 L1000,400 Z"/>
  <ellipse cx="1430" cy="470" rx="38" ry="85" transform="rotate(15 1430 470)"/>
 </g>
 <g fill="#fff" stroke="none">
  <path d="M1012,185 L1060,175 L1040,300 L1016,300 Z"/>
  <path d="M1120,170 L1165,185 L1150,290 L1110,300 Z"/>
  <path d="M1180,190 L1200,200 L1195,300 L1165,300 Z"/>
 </g>
 <g stroke="#fff" stroke-width="2.5" fill="none">
  <path d="M1245,60 V185 M1258,65 V185 M1271,70 V188 M1284,75 V188 M1297,80 V190 M1310,85 V190 M1070,105 L1100,150 M1085,103 L1115,148 M1100,104 L1130,140"/>
  <path d="M1230,215 L1430,265 M1240,250 L1400,300 M1260,205 V330 M1330,230 V330 M1000,335 H1400 M1300,400 L1440,520 M1400,400 L1350,540"/>
 </g>
 <!-- gear -->
 <path fill="#ababab" fill-rule="evenodd" d="M782.0,328.0 L781.8,335.8 L806.7,347.7 L805.2,357.0 L777.7,360.3 L775.9,366.3 L773.3,373.6 L793.3,392.7 L789.0,401.1 L761.9,395.8 L758.3,400.9 L753.5,407.0 L766.7,431.4 L760.0,438.0 L735.8,424.5 L730.9,428.3 L724.4,432.7 L729.4,459.9 L721.0,464.1 L702.2,443.9 L696.3,445.9 L688.8,448.1 L685.2,475.5 L675.9,476.9 L664.2,451.8 L658.0,452.0 L650.2,451.8 L638.3,476.7 L629.0,475.2 L625.7,447.7 L619.7,445.9 L612.4,443.3 L593.3,463.3 L584.9,459.0 L590.2,431.9 L585.1,428.3 L579.0,423.5 L554.6,436.7 L548.0,430.0 L561.5,405.8 L557.7,400.9 L553.3,394.4 L526.1,399.4 L521.9,391.0 L542.1,372.2 L540.1,366.3 L537.9,358.8 L510.5,355.2 L509.1,345.9 L534.2,334.2 L534.0,328.0 L534.2,320.2 L509.3,308.3 L510.8,299.0 L538.3,295.7 L540.1,289.7 L542.7,282.4 L522.7,263.3 L527.0,254.9 L554.1,260.2 L557.7,255.1 L562.5,249.0 L549.3,224.6 L556.0,218.0 L580.2,231.5 L585.1,227.7 L591.6,223.3 L586.6,196.1 L595.0,191.9 L613.8,212.1 L619.7,210.1 L627.2,207.9 L630.8,180.5 L640.1,179.1 L651.8,204.2 L658.0,204.0 L665.8,204.2 L677.7,179.3 L687.0,180.8 L690.3,208.3 L696.3,210.1 L703.6,212.7 L722.7,192.7 L731.1,197.0 L725.8,224.1 L730.9,227.7 L737.0,232.5 L761.4,219.3 L768.0,226.0 L754.5,250.2 L758.3,255.1 L762.7,261.6 L789.9,256.6 L794.1,265.0 L773.9,283.8 L775.9,289.7 L778.1,297.2 L805.5,300.8 L806.9,310.1 L781.8,321.8 Z M658.0,236.0 a92,92 0 1 0 0.1,0 Z"/>
 <!-- mask -->
 <path d="M525,335 C650,320 800,312 1000,316 V570 H760 V300 L830,300 L830,570 H700 L700,430 L560,430 Z" fill="#fff"/>
 <path d="M700,340 H1000 V570 H700 Z" fill="#fff"/>
 <path d="M700,340 H1000 V400 H700 Z" fill="#fff"/>
 <!-- bottom-left solid of gear -->
 <path d="M556,405 C600,395 660,385 700,380 L700,480 L690,484 L680,470 L655,482 L650,468 L622,472 L620,458 L596,455 L598,440 L575,432 L580,420 Z" fill="#ababab"/>
 <!-- swoosh -->
 <path d="M533,372 C640,332 800,318 985,322 L985,346 C860,344 800,350 760,356 L760,372 C690,378 620,392 556,415 Z" fill="#b3b3b3"/>
 <g stroke="#d8d8d8" fill="none" stroke-width="2.5">
  <path d="M538,380 C650,343 800,330 985,332"/>
  <path d="M542,390 C650,354 780,342 900,340"/>
  <path d="M548,400 C650,366 740,356 800,352"/>
 </g>
 <!-- combine lower body over mask area (light) -->
 <g fill="#e6e6e6"><path d="M830,400 H1440 C1475,420 1480,480 1440,540 L1400,560 L1370,520 L1320,560 L1290,520 L1000,495 L830,480 Z"/></g>
 <text x="1000" y="360" font-size="50" style="font-family:'Liberation Serif',serif;fill:#7d7d7d" textLength="130" lengthAdjust="spacingAndGlyphs">ООО</text>
 <text x="682" y="486" font-size="140" font-weight="bold" stroke="#fff" stroke-width="6" paint-order="stroke" style="font-family:'Liberation Serif',serif;fill:#8f8f8f" textLength="716" lengthAdjust="spacingAndGlyphs">АГРОСНАБ</text>
 </g>
</g>
<!-- frames -->
<g id="frames" style="stroke-width:2">
<path class="k" style="stroke-width:2" d="M431,368.5 H721.5 L822.5,449.5 V828.5 H431 Z"/>
<path class="k" style="stroke-width:2" d="M1012.7,575.6 L1179.7,672.1 L1108.2,795.9 L938.6,698.2 Z"/>
<path class="k" style="stroke-width:1.9" d="M581.8,260.5 H656 M646.5,260.5 V355.2 H610.1"/>
</g>
<!-- leaders -->
<g id="leaders" class="k" style="stroke-width:2">
<path d="M412.5,156.3 L448,192.5"/>
<path d="M687.7,88.4 L726.9,122.6"/>
<path d="M852.5,280 L912.5,243.75"/>
<path d="M577.1,332.1 H603.1"/>
<path d="M360,436.5 H431"/>
<path d="M272.1,503.7 L313.5,544.3"/>
<path d="M232.6,653.6 L268.1,689.5"/>
<path d="M231.4,810.6 L285.1,778.4"/>
<path d="M280.6,868.2 L321.8,838.5"/>
<path d="M507.1,663.1 V707.6"/>
<path d="M611.9,680.1 H642.8"/>
<path d="M1034,642.5 L1011,664"/>
<path d="M1104.5,680 L1083,704"/>
<path d="M1145,733.75 H1197.5"/>
<path d="M603,916.75 H659.5"/>
<path d="M756.25,1003.75 H832.5"/>
<path d="M606.25,1053 H666.75"/>
<path d="M1079.3,1201.8 H1151.9"/>
<path d="M668.3,1374.1 H734.4"/>
<path d="M838,1348.2 H885.2"/>
<path d="M1308.6,1491.1 V1543.7"/>
<path d="M371,1609.5 H466.5"/>
<path d="M751.4,1670.4 V1708.1"/>
<path d="M1018.5,1661 V1722"/>
<path d="M828.5,1756.8 L861.1,1796.9"/>
</g>
<!-- labels -->
<g id="labels">
<text class="n" x="377.05" y="152.5" textLength="15.08" lengthAdjust="spacingAndGlyphs">2</text><path d="M400.2,128.9 H404.2 V152.5 H400.2 V133.5 L395.0,138.3 V135.1 Z" fill="#000"/>
<text class="b" x="714.5" y="147.6" textLength="43" lengthAdjust="spacingAndGlyphs">22</text>
<text class="b" x="906.5" y="243" textLength="43" lengthAdjust="spacingAndGlyphs">23</text>
<path d="M674.9,248.2 H678.9 V271.8 H674.9 V252.8 L672.7,257.6 V254.4 Z" fill="#000"/>
<text class="b" x="611" y="344.3" textLength="21" lengthAdjust="spacingAndGlyphs">2</text>
<path d="M326.2,425.1 H330.2 V448.7 H326.2 V429.7 L320.8,434.5 V431.3 Z" fill="#000"/><text class="n" x="334.18" y="448.7" textLength="14.72" lengthAdjust="spacingAndGlyphs">8</text>
<path d="M250.3,476.4 H254.3 V500.0 H250.3 V481.0 L245.9,485.8 V482.6 Z" fill="#000"/><path d="M258.3,476.4 H262.3 V500.0 H258.3 V481.0 L254.9,485.8 V482.6 Z" fill="#000"/>
<path d="M206.4,625.8 H210.4 V649.4 H206.4 V630.4 L200.0,635.2 V632.0 Z" fill="#000"/><text class="n" x="213.03" y="649.4" textLength="14.01" lengthAdjust="spacingAndGlyphs">7</text>
<text class="b" x="479.5" y="652.6" textLength="42" lengthAdjust="spacingAndGlyphs">20</text>
<path d="M653.2,667.4 H657.2 V691.0 H653.2 V672.0 L647.8,676.8 V673.6 Z" fill="#000"/><text class="n" x="660.07" y="691.0" textLength="14.84" lengthAdjust="spacingAndGlyphs">9</text>
<path d="M201.2,809.5 H205.2 V833.1 H201.2 V814.1 L195.8,818.9 V815.7 Z" fill="#000"/><text class="n" x="208.07" y="833.1" textLength="14.84" lengthAdjust="spacingAndGlyphs">6</text>
<path d="M251.3,868.3 H255.3 V891.9 H251.3 V872.9 L245.9,877.7 V874.5 Z" fill="#000"/><text class="n" x="258.17" y="891.9" textLength="14.84" lengthAdjust="spacingAndGlyphs">5</text>
<text class="b" x="1036" y="637.5" textLength="21" lengthAdjust="spacingAndGlyphs">5</text>
<text class="b" x="1104" y="674.5" textLength="22" lengthAdjust="spacingAndGlyphs">4</text>
<text class="b" x="1206" y="746" textLength="21" lengthAdjust="spacingAndGlyphs">3</text>
<text class="b" x="567.5" y="927" textLength="21" lengthAdjust="spacingAndGlyphs">6</text>
<text class="b" x="841.5" y="1015" textLength="21" lengthAdjust="spacingAndGlyphs">7</text>
<text class="b" x="571.5" y="1063.5" textLength="21" lengthAdjust="spacingAndGlyphs">7</text>
<text class="b" x="1160" y="1212.6" textLength="21" lengthAdjust="spacingAndGlyphs">8</text>
<text class="b" x="632.5" y="1384.8" textLength="21" lengthAdjust="spacingAndGlyphs">6</text>
<text class="b" x="894" y="1360" textLength="21" lengthAdjust="spacingAndGlyphs">6</text>
<text class="b" x="1295" y="1576.2" textLength="21" lengthAdjust="spacingAndGlyphs">9</text>
<path d="M335.4,1598.4 H339.4 V1622.0 H335.4 V1603.0 L330.0,1607.8 V1604.6 Z" fill="#000"/><text class="n" x="342.48" y="1622.0" textLength="16.02" lengthAdjust="spacingAndGlyphs">4</text>
<path d="M739.6,1636.4 H743.6 V1660.0 H739.6 V1641.0 L734.2,1645.8 V1642.6 Z" fill="#000"/><text class="n" x="746.58" y="1660.0" textLength="14.72" lengthAdjust="spacingAndGlyphs">3</text>
<path d="M1005.4,1729.4 H1009.4 V1753.0 H1005.4 V1734.0 L1000.0,1738.8 V1735.6 Z" fill="#000"/><text class="n" x="1013.02" y="1753.0" textLength="15.43" lengthAdjust="spacingAndGlyphs">0</text>
<path d="M862.3,1800.8 H866.3 V1824.4 H862.3 V1805.4 L856.9,1810.2 V1807.0 Z" fill="#000"/><text class="n" x="869.36" y="1824.4" textLength="14.96" lengthAdjust="spacingAndGlyphs">2</text>
<text x="9" y="1842.5" font-size="23px" style="stroke:#000;stroke-width:1.2" textLength="199.5" lengthAdjust="spacingAndGlyphs">8872_RE525025_PCD</text>
</g>
</svg>
</body></html>
